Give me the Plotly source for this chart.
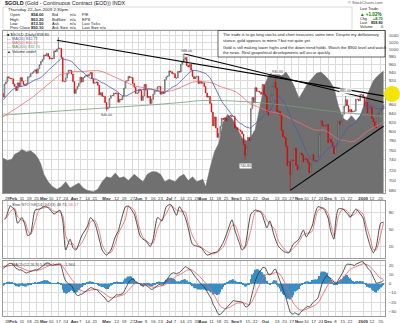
import pandas as pd
import numpy as np
import plotly.graph_objects as go

# ---------------- DATA ----------------
C_2007_11 = [795, 806, 807, 823, 833, 833, 834, 810, 790, 806, 795, 786, 797, 815, 814, 814, 823, 830, 809, 805, 800, 783]
C_2007_12 = [800, 803, 806, 793, 803, 805, 813, 815, 803, 798, 792, 797, 805, 808, 811, 817, 817, 828, 832, 836, 834]
C_2008_01 = [834, 857, 865, 862, 858, 879, 881, 892, 896, 903, 912, 885, 881, 880, 876, 887, 878, 910, 915, 928, 925, 924, 923]
C_2008_02 = [910, 904, 894, 913, 904, 926, 917, 909, 907, 911, 928, 928, 936, 938, 942, 946, 937, 949, 959, 968, 973]
C_2008_03 = [985, 983, 989, 981, 974, 976, 975, 996, 994, 1001, 1003, 1003, 978, 916, 916, 925, 936, 945, 944, 935, 916]
C_2008_04 = [887, 897, 904, 912, 927, 915, 926, 929, 932, 930, 935, 939, 923, 912, 913, 915, 907, 883, 889, 880, 880, 865]
C_2008_05 = [850, 854, 875, 882, 882, 888, 887, 888, 866, 873, 872, 880, 900, 917, 918, 929, 926, 926, 911, 902, 887, 888]
C_2008_06 = [896, 894, 870, 881, 909, 895, 877, 880, 863, 873, 885, 893, 893, 903, 904, 885, 891, 887, 921, 928, 930]
C_2008_07 = [943, 941, 936, 936, 925, 925, 942, 940, 960, 966, 973, 978, 957, 953, 960, 945, 929, 923, 928, 929, 911, 917, 912]
C_2008_08 = [913, 904, 888, 878, 880, 863, 843, 812, 832, 807, 787, 795, 811, 829, 826, 830, 823, 827, 834, 835, 833]
C_2008_09 = [833, 807, 808, 803, 803, 800, 794, 772, 750, 766, 787, 780, 851, 877, 865, 901, 892, 892, 890, 885, 909, 884]
C_2008_10 = [880, 844, 836, 867, 883, 905, 914, 900, 843, 845, 837, 802, 788, 786, 768, 729, 737, 711, 740, 739, 764, 729, 720]
C_2008_11 = [725, 754, 750, 736, 743, 741, 735, 715, 732, 751, 738, 739, 737, 748, 795, 823, 813, 812, 812, 815]
C_2008_12 = [776, 783, 776, 768, 753, 767, 773, 822, 815, 823, 838, 857, 872, 858, 843, 849, 843, 845, 845, 873, 873, 869, 884]
C_2009_01 = [884, 879, 857, 866, 841, 854, 854, 828, 821, 810, 808, 840, 840, 848, 850, 858]

HIGH_DATES = ["2008-03-17", "2008-07-15", "2008-10-10", "2008-12-17"]
HIGH_VALUES = [1033.9, 988.0, 930.0, 881.0]
LOW_DATES = ["2008-05-01", "2008-09-11", "2008-10-24"]
LOW_VALUES = [846.0, 740.8, 681.0]

VOL_DATES = ["2008-01-23", "2008-01-28", "2008-01-31", "2008-02-04", "2008-02-07", "2008-02-11", "2008-02-14",
             "2008-02-19", "2008-02-22", "2008-02-26", "2008-02-28", "2008-03-03", "2008-03-06", "2008-03-11",
             "2008-03-14", "2008-03-19", "2008-03-24", "2008-03-27", "2008-04-01", "2008-04-04", "2008-04-09",
             "2008-04-14", "2008-04-18", "2008-04-23", "2008-04-28", "2008-05-01", "2008-05-06", "2008-05-09",
             "2008-05-14", "2008-05-19", "2008-05-22", "2008-05-28", "2008-06-02", "2008-06-05", "2008-06-10",
             "2008-06-13", "2008-06-18", "2008-06-23", "2008-06-26", "2008-07-01", "2008-07-07", "2008-07-10",
             "2008-07-15", "2008-07-18", "2008-07-23", "2008-07-28", "2008-08-01", "2008-08-05", "2008-08-08",
             "2008-08-13", "2008-08-18", "2008-08-21", "2008-08-26", "2008-08-29", "2008-09-04", "2008-09-09",
             "2008-09-12", "2008-09-17", "2008-09-22", "2008-09-25", "2008-09-30", "2008-10-03", "2008-10-08",
             "2008-10-13", "2008-10-16", "2008-10-21", "2008-10-24", "2008-10-29", "2008-11-03", "2008-11-06",
             "2008-11-11", "2008-11-14", "2008-11-19", "2008-11-24", "2008-11-27", "2008-12-02", "2008-12-05",
             "2008-12-10", "2008-12-15", "2008-12-18", "2008-12-23", "2008-12-26", "2008-12-31", "2009-01-05",
             "2009-01-08", "2009-01-13", "2009-01-16", "2009-01-21", "2009-01-22"]
VOL_VALUES = [28, 26, 27, 31, 33, 35, 33, 34, 31, 28, 23, 15, 9, 5, 3, 5, 9, 4, 6, 8, 4, 2, 1, 3, 9, 13, 12, 16,
              12, 13, 10, 15, 12, 9, 15, 17, 17, 15, 9, 11, 9, 13, 15, 10, 13, 9, 11, 5, 20, 33, 40, 57, 63, 60,
              51, 44, 42, 45, 51, 67, 85, 94, 97, 96, 94, 97, 92, 85, 76, 82, 88, 92, 96, 97, 94, 90, 84, 70, 60,
              58, 62, 58, 62, 72, 82, 90, 94, 97, 98]

MA200_DATES = ["2008-01-23", "2008-02-15", "2008-03-14", "2008-04-15", "2008-05-15", "2008-06-16", "2008-07-15",
               "2008-08-01", "2008-08-29", "2008-09-30", "2008-10-31", "2008-11-28", "2008-12-31", "2009-01-22"]
MA200_VALUES = [836, 840, 845, 850, 855, 860, 866, 870, 869, 864, 855, 846, 838, 833]

STO_DATES = ["2008-01-24", "2008-01-25", "2008-01-30", "2008-02-04", "2008-02-06", "2008-02-11", "2008-02-13",
             "2008-02-15", "2008-02-19", "2008-02-22", "2008-02-27", "2008-03-04", "2008-03-07", "2008-03-12",
             "2008-03-18", "2008-03-20", "2008-03-24", "2008-03-27", "2008-03-31", "2008-04-02", "2008-04-08",
             "2008-04-14", "2008-04-16", "2008-04-21", "2008-04-24", "2008-04-28", "2008-05-01", "2008-05-06",
             "2008-05-09", "2008-05-13", "2008-05-20", "2008-05-22", "2008-05-28", "2008-05-30", "2008-06-03",
             "2008-06-05", "2008-06-09", "2008-06-12", "2008-06-16", "2008-06-19", "2008-06-24", "2008-06-27",
             "2008-07-02", "2008-07-08", "2008-07-10", "2008-07-16", "2008-07-18", "2008-07-23", "2008-07-29",
             "2008-07-31", "2008-08-06", "2008-08-12", "2008-08-15", "2008-08-21", "2008-08-26", "2008-08-29",
             "2008-09-02", "2008-09-05", "2008-09-09", "2008-09-11", "2008-09-17", "2008-09-22", "2008-09-26",
             "2008-10-02", "2008-10-06", "2008-10-09", "2008-10-14", "2008-10-20", "2008-10-23", "2008-10-28",
             "2008-11-03", "2008-11-06", "2008-11-10", "2008-11-14", "2008-11-18", "2008-11-20", "2008-11-26",
             "2008-12-01", "2008-12-03", "2008-12-05", "2008-12-08", "2008-12-10", "2008-12-15", "2008-12-19",
             "2008-12-22", "2008-12-26", "2008-12-29", "2009-01-02", "2009-01-06", "2009-01-09", "2009-01-13",
             "2009-01-15", "2009-01-20", "2009-01-22"]
STO_K = [68, 71, 91, 84, 61, 71, 58, 39, 43, 84, 86, 91, 86, 77, 84, 65, 14, 33, 18, 14, 39, 56, 71, 61, 33,
         14, 5, 14, 37, 47, 90, 91, 77, 58, 39, 33, 30, 20, 33, 71, 65, 90, 94, 75, 90, 71, 53, 24, 20, 18, 5, 9,
         11, 27, 47, 67, 49, 27, 14, 20, 77, 84, 80, 53, 65, 39, 20, 11, 9, 24, 33, 49, 37, 56, 77, 90, 86, 70,
         45, 33, 60, 86, 86, 75, 71, 86, 84, 70, 47, 20, 9, 20, 61, 63]

TREND_A = (["2008-03-14", "2009-01-22"], [1025, 881])
TREND_B = (["2008-07-15", "2009-01-22"], [988, 866])
TREND_C = (["2008-10-24", "2009-01-22"], [681, 811])

PEAK_LABELS = [("2008-07-17", 996, "988.00"), ("2008-05-01", 836, "846.00"), ("2008-10-13", 940, "930.00"),
               ("2008-09-11", 728, "740.80"), ("2008-10-24", 671, "681.00"), ("2008-12-17", 893, "881.00")]

X_TICK_DATES = ["2008-01-28", "2008-02-01", "2008-02-11", "2008-02-18", "2008-02-25", "2008-03-03", "2008-03-10",
                "2008-03-17", "2008-03-24", "2008-04-01", "2008-04-07", "2008-04-14", "2008-04-21", "2008-05-01",
                "2008-05-12", "2008-05-19", "2008-05-27", "2008-06-02", "2008-06-09", "2008-06-16", "2008-06-23",
                "2008-07-01", "2008-07-07", "2008-07-14", "2008-07-21", "2008-07-28", "2008-08-01", "2008-08-11",
                "2008-08-18", "2008-08-25", "2008-09-02", "2008-09-08", "2008-09-15", "2008-09-22", "2008-10-01",
                "2008-10-13", "2008-10-20", "2008-10-27", "2008-11-03", "2008-11-10", "2008-11-17", "2008-11-24",
                "2008-12-01", "2008-12-08", "2008-12-15", "2008-12-22", "2009-01-02", "2009-01-12", "2009-01-20"]
X_TICK_TEXT = ["28", "Feb", "11", "18", "25", "Mar", "10", "17", "24", "Apr", "7", "14", "21", "May", "12", "19",
               "27", "Jun", "9", "16", "23", "Jul", "7", "14", "21", "28", "Aug", "11", "18", "25", "Sep", "8", "15",
               "22", "Oct", "13", "20", "27", "Nov", "10", "17", "24", "Dec", "8", "15", "22", "2009", "12", "20"]
MONTH_LABELS = {"Feb", "Mar", "Apr", "May", "Jun", "Jul", "Aug", "Sep", "Oct", "Nov", "Dec", "2009"}

PRICE_TICKS = list(range(680, 1041, 20))
STO_TICKS = [20, 50, 80]
MACD_TICKS = [-30, -20, -10, 0, 10, 20]

# ---------------- COMPUTE ----------------
CLOSES = (C_2007_11 + C_2007_12 + C_2008_01 + C_2008_02 + C_2008_03 + C_2008_04 + C_2008_05 + C_2008_06 +
          C_2008_07 + C_2008_08 + C_2008_09 + C_2008_10 + C_2008_11 + C_2008_12 + C_2009_01)
dates = pd.bdate_range("2007-11-01", "2009-01-22")
n = min(len(dates), len(CLOSES))
close = pd.Series(CLOSES[:n], index=dates[:n], dtype=float)
openp = close.shift(1).fillna(close)
high = np.maximum(openp, close)
low = np.minimum(openp, close)
for d, v in zip(HIGH_DATES, HIGH_VALUES):
    high[pd.Timestamp(d)] = v
for d, v in zip(LOW_DATES, LOW_VALUES):
    low[pd.Timestamp(d)] = v

ma20 = close.rolling(20).mean()
ma50 = close.rolling(50, min_periods=20).mean()
ema12 = close.ewm(span=12, adjust=False).mean()
ema26 = close.ewm(span=26, adjust=False).mean()
macd = ema12 - ema26
signal = macd.ewm(span=9, adjust=False).mean()
hist = macd - signal

sto_k = pd.Series(STO_K, index=pd.to_datetime(STO_DATES), dtype=float)
sto_d = sto_k.rolling(2, min_periods=1).mean()

START = pd.Timestamp("2008-01-23")
vis = close.index >= START
idx = close.index[vis]

PMIN, PMAX = 676.2, 1051.4

W, H = 400, 323
ML, MR, MT, MB = 3, 15, 31, 7
PW, PH = W - ML - MR, H - MT - MB


def fx(px):
    return (px - ML) / PW


def fy(py):
    return (H - MB - py) / PH


FONT = "Liberation Sans, Arial, sans-serif"
GRID = "#dcdcdc"

fig = go.Figure()

# volume on the hidden base axis of the price panel -> drawn under everything else
fig.add_trace(go.Scatter(x=pd.to_datetime(VOL_DATES), y=VOL_VALUES, xaxis="x", yaxis="y", mode="lines",
                         line=dict(color="#6f6f6f", width=0.5), fill="tozeroy", fillcolor="#707070",
                         hoverinfo="skip"))
fig.add_trace(go.Scatter(x=MA200_DATES, y=MA200_VALUES, xaxis="x", yaxis="y4", mode="lines",
                         line=dict(color="#7a9a7a", width=0.8, shape="spline")))
fig.add_trace(go.Scatter(x=idx, y=ma50[vis], xaxis="x", yaxis="y4", mode="lines",
                         line=dict(color="#e87070", width=0.8)))
fig.add_trace(go.Scatter(x=idx, y=ma20[vis], xaxis="x", yaxis="y4", mode="lines",
                         line=dict(color="#4a5aa8", width=0.8)))
fig.add_trace(go.Candlestick(x=idx, open=openp[vis], high=high[vis], low=low[vis], close=close[vis],
                             xaxis="x", yaxis="y4",
                             increasing=dict(line=dict(color="#444444", width=0.6), fillcolor="white"),
                             decreasing=dict(line=dict(color="#e00000", width=0.6), fillcolor="#e00000"),
                             whiskerwidth=0))
for tx, ty in (TREND_A, TREND_B, TREND_C):
    fig.add_trace(go.Scatter(x=tx, y=ty, xaxis="x", yaxis="y4", mode="lines",
                             line=dict(color="black", width=1.1)))

fig.add_trace(go.Scatter(x=sto_d.index, y=sto_d.values, xaxis="x2", yaxis="y2", mode="lines",
                         line=dict(color="#ee6060", width=0.8, shape="spline", smoothing=0.6)))
fig.add_trace(go.Scatter(x=sto_k.index, y=sto_k.values, xaxis="x2", yaxis="y2", mode="lines",
                         line=dict(color="#222222", width=0.8, shape="spline", smoothing=0.6)))
fig.add_trace(go.Bar(x=idx, y=hist[vis], xaxis="x3", yaxis="y3", marker=dict(color="#3a8cc4", line=dict(width=0))))
fig.add_trace(go.Scatter(x=idx, y=signal[vis], xaxis="x3", yaxis="y3", mode="lines",
                         line=dict(color="#ee6060", width=0.8)))
fig.add_trace(go.Scatter(x=idx, y=macd[vis], xaxis="x3", yaxis="y3", mode="lines",
                         line=dict(color="#333333", width=0.8)))

ticktext = ["<b>%s</b>" % t if t in MONTH_LABELS else t for t in X_TICK_TEXT]
XR = ["2008-01-23", "2009-01-23"]
RB = [dict(bounds=["sat", "mon"])]
xcommon = dict(type="date", range=XR, rangebreaks=RB, tickvals=X_TICK_DATES, ticktext=ticktext,
               tickangle=0, automargin=False,
               showgrid=True, gridcolor=GRID, gridwidth=0.6, showline=True, linecolor="#9a9a9a",
               linewidth=0.6, mirror=True, ticks="", tickfont=dict(size=4.3, color="#333", family=FONT),
               rangeslider=dict(visible=False), zeroline=False, ticklabelstandoff=1)
ycommon = dict(showgrid=True, gridcolor=GRID, gridwidth=0.6, showline=True, linecolor="#9a9a9a", linewidth=0.6,
               mirror=True, ticks="", side="right", tickfont=dict(size=4.4, color="#444", family=FONT),
               zeroline=False, ticklabelstandoff=2, automargin=False)

fig.update_layout(
    width=W, height=H, margin=dict(l=ML, r=MR, t=MT, b=MB),
    paper_bgcolor="white", plot_bgcolor="white", showlegend=False, bargap=0.2,
    font=dict(family=FONT, size=5, color="#222"),
    xaxis=dict(xcommon, domain=[0, 1], anchor="y"),
    yaxis=dict(domain=[fy(193), fy(31)], range=[0, 130], autorange=False, type="linear",
               showticklabels=False, showgrid=False, showline=False, zeroline=False, ticks=""),
    yaxis4=dict(ycommon, overlaying="y", anchor="x", type="log",
                range=[np.log10(PMIN), np.log10(PMAX)], tickvals=PRICE_TICKS),
    xaxis2=dict(xcommon, domain=[0, 1], anchor="y2", showticklabels=False),
    yaxis2=dict(ycommon, domain=[fy(258), fy(201)], anchor="x2", range=[0, 100], tickvals=STO_TICKS),
    xaxis3=dict(xcommon, domain=[0, 1], anchor="y3"),
    yaxis3=dict(ycommon, domain=[0, fy(261)], anchor="x3", range=[-35, 24.5], tickvals=MACD_TICKS),
)

ann = []


def txt(px, py, s, size=4.4, color="#222", xanchor="left", bg=None):
    d = dict(x=fx(px), y=fy(py), xref="paper", yref="paper", text=s, showarrow=False, xanchor=xanchor,
             yanchor="middle", font=dict(size=size, color=color, family=FONT))
    if bg:
        d["bgcolor"] = bg
    ann.append(d)


txt(3, 3.5, "<b>$GOLD</b> (Gold - Continuous Contract (EOD)) INDX", size=5.4)
txt(385, 3, "© StockCharts.com", size=4.0, xanchor="right", color="#555")
txt(6, 10, "Thursday 22-Jan-2009 2:30pm", size=4.4)
rows = [("Open", "854.00", "Bid", "n/a", "P/E", ""), ("High", "863.20", "BidSize", "n/a", "EPS", ""),
        ("Low", "813.50", "Ask", "n/a", "Last Ticks", ""), ("Prev Close", "850.10", "Ask Size", "n/a", "Last Size", "n/a")]
for i, r in enumerate(rows):
    yy = 14.8 + i * 4.3
    txt(8, yy, r[0], size=4.1)
    txt(29, yy, "<b>%s</b>" % r[1], size=4.1)
    txt(50, yy, r[2], size=4.1)
    txt(68, yy, r[3], size=4.1)
    txt(80, yy, r[4], size=4.1)
    txt(98, yy, r[5], size=4.1)
txt(358, 9.5, "Last Trade:", size=3.8)
txt(358, 14.2, "<b>▲ +1.02%</b>", size=4.6, color="#007a00")
txt(358, 18.8, "Chg", size=3.8)
txt(385, 18.8, "<b>+8.70</b>", size=3.8, xanchor="right", color="#007a00")
txt(358, 22.8, "Last", size=3.8)
txt(385, 22.8, "<b>858.80</b>", size=3.8, xanchor="right")
txt(358, 26.8, "Volume", size=3.8)
txt(385, 26.8, "0", size=3.8, xanchor="right")

txt(5, 34, "■ $GOLD (Daily) 858.80", size=3.9)
txt(5, 38.3, "— MA(20) 832.71", size=3.9, color="#4a5aa8")
txt(5, 42.6, "— MA(50) 840.13", size=3.9, color="#e06060")
txt(5, 46.9, "— MA(200) 832.70", size=3.9, color="#5f8a5f")
txt(5, 51.2, "▲ Volume undef", size=3.9)

box_lines = [(34.8, "The trade is to go long stocks and short treasuries some time. Despite my deflationary"),
             (40.0, "stance, gold appears to mimic? but not quite yet."),
             (47.5, "Gold is still making lower highs and the down trend holds. Watch the $900 level and watch"),
             (52.7, "the news. Real geopolitical developments will occur quickly.")]
for yy, s in box_lines:
    txt(220.5, yy, s, size=4.1)

txt(5, 204, "— Slow STO %K(14) %D(3) 48.73, <span style='color:#e06060'>56.17</span>", size=3.9, color="#444")
txt(5, 264, "— MACD(12,26,9) 5.434, <span style='color:#e06060'>7.378</span>, -1.944", size=3.9, color="#444")

for d, p, s in PEAK_LABELS:
    ann.append(dict(x=d, y=np.log10(p), xref="x", yref="y4", text=s, showarrow=False,
                    font=dict(size=3.6, color="#333", family=FONT), bgcolor="white", borderpad=0))

fig.update_layout(annotations=ann)

shapes = [
    dict(type="rect", xref="paper", yref="paper", x0=fx(3), x1=fx(352), y0=fy(30), y1=fy(7),
         fillcolor="white", line=dict(color="#c4c4c4", width=0.6), layer="below"),
    dict(type="rect", xref="paper", yref="paper", x0=fx(218), x1=fx(385), y0=fy(57), y1=fy(30.5),
         fillcolor="white", line=dict(color="#222", width=0.7), layer="above"),
    dict(type="circle", xref="paper", yref="paper", x0=fx(384), x1=fx(400), y0=fy(102), y1=fy(86),
         fillcolor="#f2e400", line=dict(width=0), opacity=0.95, layer="above"),
]
fig.update_layout(shapes=shapes)

fig.write_html("out.html")
